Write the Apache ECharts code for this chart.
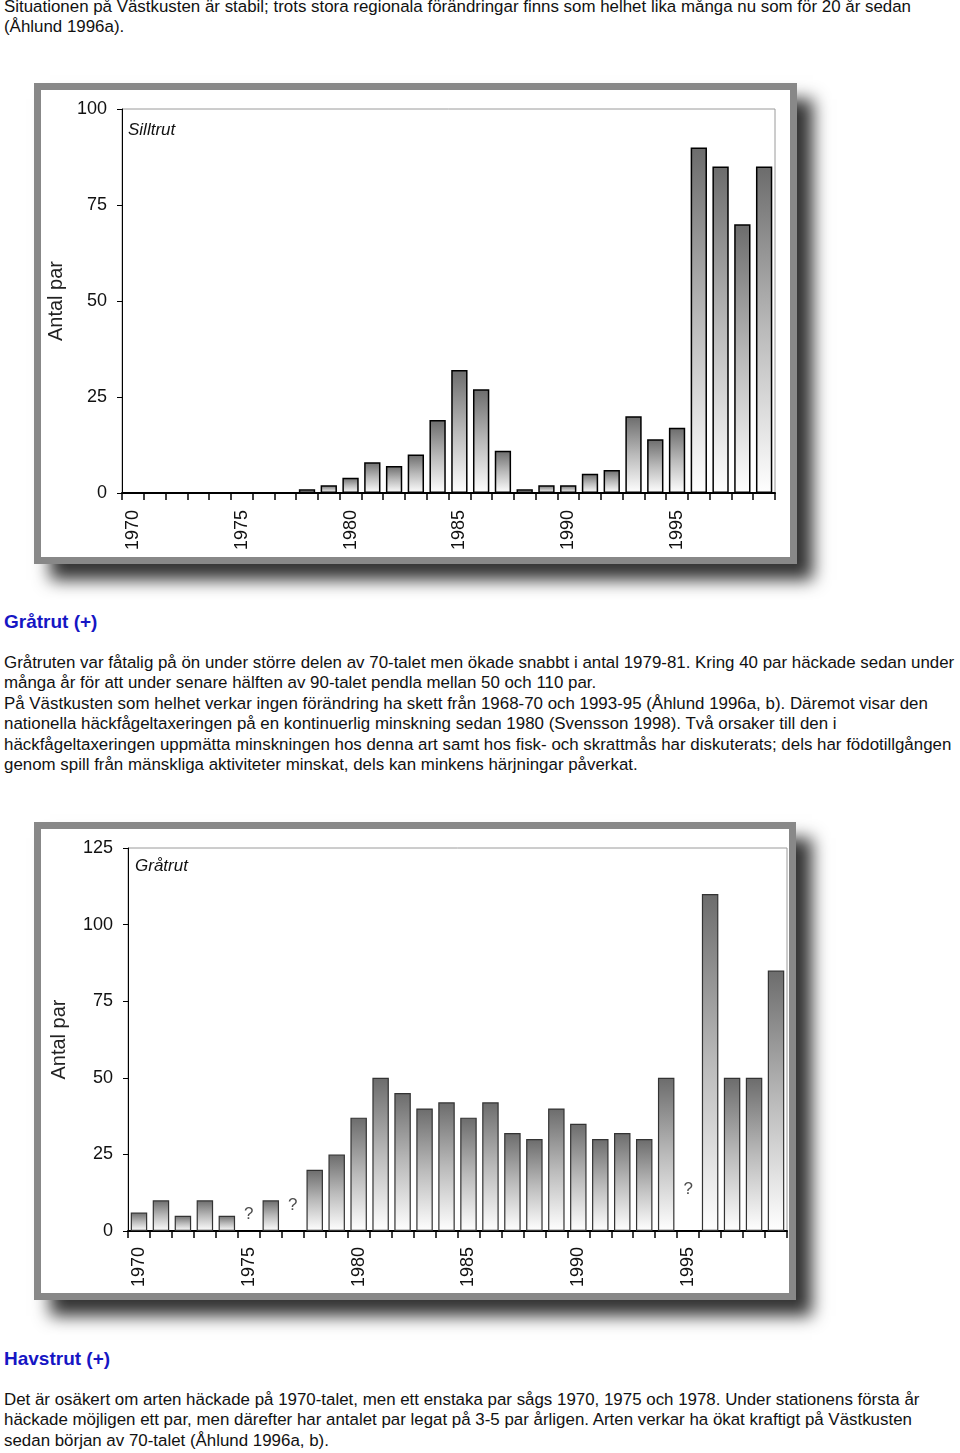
<!DOCTYPE html>
<html>
<head>
<meta charset="utf-8">
<script src="https://cdn.jsdelivr.net/npm/echarts@6/dist/echarts.min.js"></script>
<style>
  html, body { margin: 0; padding: 0; background: #fff; }
  body { width: 960px; height: 1453px; position: relative; overflow: hidden;
         font-family: "Liberation Sans", Arial, sans-serif; color: #111; }
  .txt { position: absolute; left: 4px; font-size: 16.9px; line-height: 20.4px; white-space: nowrap; }
  .ttl { position: absolute; left: 4px; font-size: 19px; font-weight: bold; color: #1616c4; line-height: 20px; white-space: nowrap; }
  .chart { position: absolute; left: 0; width: 960px; height: 530px; }
</style>
</head>
<body>
<div class="txt" style="top:-3px">Situationen på Västkusten är stabil; trots stora regionala förändringar finns som helhet lika många nu som för 20 år sedan<br>(Åhlund 1996a).</div>

<div id="c1" class="chart" style="top:70px"></div>

<div class="ttl" style="top:612px">Gråtrut (+)</div>
<div class="txt" style="top:653px">Gråtruten var fåtalig på ön under större delen av 70-talet men ökade snabbt i antal 1979-81. Kring 40 par häckade sedan under<br>många år för att under senare hälften av 90-talet pendla mellan 50 och 110 par.<br>På Västkusten som helhet verkar ingen förändring ha skett från 1968-70 och 1993-95 (Åhlund 1996a, b). Däremot visar den<br>nationella häckfågeltaxeringen på en kontinuerlig minskning sedan 1980 (Svensson 1998). Två orsaker till den i<br>häckfågeltaxeringen uppmätta minskningen hos denna art samt hos fisk- och skrattmås har diskuterats; dels har födotillgången<br>genom spill från mänskliga aktiviteter minskat, dels kan minkens härjningar påverkat.</div>

<div id="c2" class="chart" style="top:810px"></div>

<div class="ttl" style="top:1349px">Havstrut (+)</div>
<div class="txt" style="top:1390px">Det är osäkert om arten häckade på 1970-talet, men ett enstaka par sågs 1970, 1975 och 1978. Under stationens första år<br>häckade möjligen ett par, men därefter har antalet par legat på 3-5 par årligen. Arten verkar ha ökat kraftigt på Västkusten<br>sedan början av 70-talet (Åhlund 1996a, b).</div>

<script>
// ---- data ----
const years = ['1970','1971','1972','1973','1974','1975','1976','1977','1978','1979',
               '1980','1981','1982','1983','1984','1985','1986','1987','1988','1989',
               '1990','1991','1992','1993','1994','1995','1996','1997','1998','1999'];
const silltrutPairs = [0,0,0,0,0,0,0,0,1,2,4,8,7,10,19,32,27,11,1,2,2,5,6,20,14,17,90,85,70,85];
const gratrutPairs  = [6,10,5,10,5,null,10,null,20,25,37,50,45,40,42,37,42,32,30,40,35,30,32,30,50,null,110,50,50,85];
const unknownYears  = ['1975','1977','1995'];
const unknownLevel  = [5.5,8.5,13.7];
const silltrutTicks = {min:0, max:100, interval:25};
const gratrutTicks  = {min:0, max:125, interval:25};
const yName = 'Antal par';

const FONT = '"Liberation Sans", Arial, sans-serif';

function barGradient() {
  return new echarts.graphic.LinearGradient(0,0,0,1,[
    {offset:0, color:'#6c6c6c'},
    {offset:0.5, color:'#bababa'},
    {offset:1, color:'#ffffff'}
  ]);
}

function makeOption(cfg) {
  const f = cfg.frame;
  return {
    animation: false,
    graphic: [
      { type:'rect', z:-20, silent:true,
        shape:{x:f[0]-3.5, y:f[1]-3.5, width:f[2]+7, height:f[3]+7},
        style:{fill:'#777777',
               shadowBlur:16, shadowOffsetX:16, shadowOffsetY:16, shadowColor:'rgba(0,0,0,0.8)'} },
      { type:'rect', z:-10, silent:true,
        shape:{x:f[0], y:f[1], width:f[2], height:f[3]},
        style:{fill:'#ffffff', stroke:'#888888', lineWidth:7} },
      { type:'text', z:10, left:cfg.labelPos[0], top:cfg.labelPos[1],
        style:{text:cfg.label, font:'italic 17px ' + FONT, fill:'#111'} }
    ],
    grid: { left:cfg.grid[0], top:cfg.grid[1], width:cfg.grid[2], height:cfg.grid[3],
            show:true, borderColor:'#9a9a9a', borderWidth:1, backgroundColor:'transparent' },
    xAxis: {
      type:'category', data:years, boundaryGap:true,
      axisLine:{show:true, onZero:true, lineStyle:{color:'#000', width:2}},
      axisTick:{show:true, interval:0, length:7, lineStyle:{color:'#000', width:1.5}},
      axisLabel:{interval:4, rotate:90, margin:cfg.xMargin, fontSize:18, fontFamily:FONT, color:'#111'},
      splitLine:{show:false}
    },
    yAxis: {
      type:'value', min:cfg.ticks.min, max:cfg.ticks.max, interval:cfg.ticks.interval,
      name:yName, nameLocation:'middle', nameRotate:90, nameGap:cfg.nameGap,
      nameTextStyle:{fontSize:20, fontFamily:FONT, color:'#222'},
      axisLine:{show:true, lineStyle:{color:'#000', width:1}},
      axisTick:{show:true, length:5, lineStyle:{color:'#000'}},
      axisLabel:{margin:15, fontSize:18, fontFamily:FONT, color:'#111'},
      splitLine:{show:false}
    },
    series: cfg.series
  };
}

// ---- chart 1: Silltrut ----
const c1 = echarts.init(document.getElementById('c1'), null, {renderer:'canvas'});
c1.setOption(makeOption({
  frame:[37.5, 16.5, 756, 474],
  grid:[122, 39, 653, 384],
  label:'Silltrut', labelPos:[128, 52],
  ticks:silltrutTicks, nameGap:50, xMargin:17,
  series:[{
    type:'bar', data:silltrutPairs, barCategoryGap:'25%',
    itemStyle:{color:barGradient(), borderColor:'#000', borderWidth:1.5}
  }]
}));

// ---- chart 2: Gråtrut ----
const c2 = echarts.init(document.getElementById('c2'), null, {renderer:'canvas'});
c2.setOption(makeOption({
  frame:[37.5, 15.5, 755, 471],
  grid:[128, 38, 659, 383],
  label:'Gråtrut', labelPos:[135, 48],
  ticks:gratrutTicks, nameGap:59, xMargin:16,
  series:[{
    type:'bar', data:gratrutPairs, barCategoryGap:'25%',
    itemStyle:{color:barGradient(), borderColor:'#333', borderWidth:1.2}
  },{
    type:'scatter', symbolSize:1, itemStyle:{color:'rgba(0,0,0,0)'},
    data:unknownYears.map((y,i)=>[y, unknownLevel[i]]),
    label:{show:true, position:'inside', formatter:'?', fontSize:17, fontFamily:FONT, color:'#222'}
  }]
}));
</script>
</body>
</html>
